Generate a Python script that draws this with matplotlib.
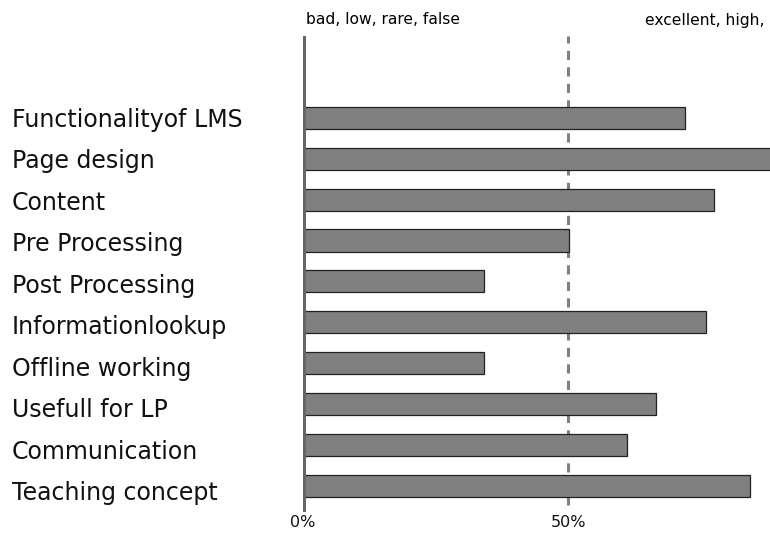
import matplotlib.pyplot as plt
import matplotlib.transforms as mtransforms

categories = ["Functionalityof LMS", "Page design", "Content", "Pre Processing",
              "Post Processing", "Informationlookup", "Offline working",
              "Usefull for LP", "Communication", "Teaching concept"]
values = [72, 90, 77.5, 50.2, 34.2, 76, 34.2, 66.6, 61.1, 84.3]
tick_values = [0, 50]
tick_labels = ["0%", "50%"]

fig = plt.figure(figsize=(7.7, 5.33), dpi=100)
W, H = 770, 533
x0, x50 = 303, 568
px_per_unit = (x50 - x0) / 50
ax = fig.add_axes([x0 / W, (H - 512) / H, 100 * px_per_unit / W, (512 - 36) / H])

ypos = list(range(len(categories)))
ax.barh(ypos, values, height=0.54, color="#808080", edgecolor="#222222", linewidth=0.9, zorder=2)
ax.set_xlim(0, 100)
ax.set_ylim(9.64, -2.0)
ax.axvline(0, color="#666666", linewidth=4.3, zorder=3)
ax.axvline(50, ymin=0.015, ymax=1, color="#808080", linewidth=2.2,
           dashes=(3, 2.4), zorder=1)
ax.axis("off")

trans = mtransforms.blended_transform_factory(fig.transFigure, ax.transData)
for y, name in zip(ypos, categories):
    ax.text(12 / W, y * 1.015 + 0.05, name, transform=trans, fontsize=17,
            ha="left", va="center", color="#111111")

for v, lab in zip(tick_values, tick_labels):
    ax.text(v, 9.9, lab, fontsize=11.5, ha="center", va="center", color="#111111",
            clip_on=False)

fig.text(306 / W, 1 - 20 / H, "bad, low, rare, false", fontsize=11.2, ha="left", va="center")
fig.text(645 / W, 1 - 20 / H, "excellent, high, often, true", fontsize=11.2, ha="left", va="center")

fig.savefig("out.png", dpi=100)
